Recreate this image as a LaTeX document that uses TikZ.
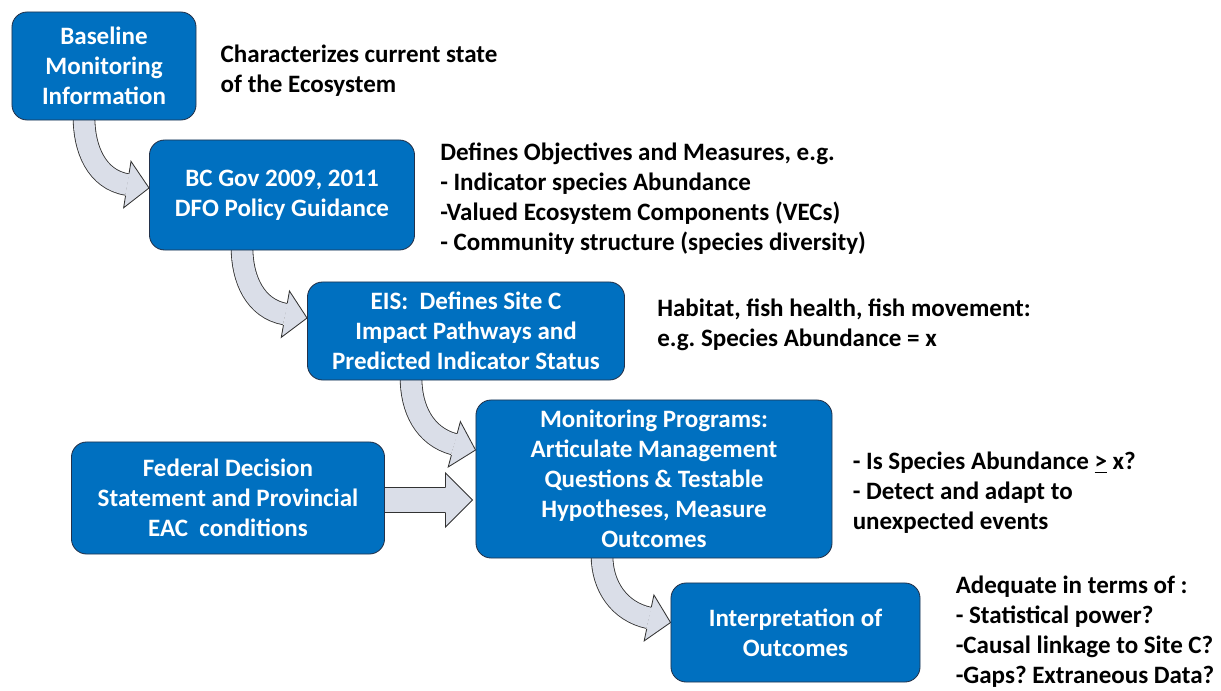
\documentclass[tikz,border=0pt]{standalone}
\usepackage{fontspec}
\setmainfont{Carlito}
\usetikzlibrary{positioning, calc, backgrounds}
\definecolor{BoxBlue}{RGB}{0,112,192}
\definecolor{BoxEdge}{RGB}{35,50,75}
\definecolor{ArrowGray}{RGB}{218,222,232}
\definecolor{ArrowEdge}{RGB}{50,50,50}
\frenchspacing

\tikzset{
  stagebox/.style={draw=BoxEdge, line width=0.6pt, fill=BoxBlue, rounded corners=0.38cm, text=white, align=center, inner sep=0pt, font=\bfseries\fontsize{17.8}{21.3}\selectfont},
  sidenote/.style={anchor=west, align=left, inner sep=0pt, font=\bfseries\fontsize{17.8}{21.3}\selectfont},
  shaft/.style={draw=ArrowEdge, line width=0.6pt, double=ArrowGray, double distance=0.52cm},
}

% curved block arrow: start, tip, tilt of the head, options of the to path
\newcommand{\bendarrow}[4]{%
  \begin{scope}[shift={#2}, rotate=#3]
    \coordinate (headbase) at (-22,0);
  \end{scope}
  \draw[shaft] #1 to[#4] (headbase);
  \begin{scope}[shift={#2}, rotate=#3]
    \fill[ArrowGray] (-22,23.5) -- (0,0) -- (-22,-23.5) -- cycle;
    \draw[ArrowEdge, line width=0.6pt] (-22,11.2) -- (-22,23.5) -- (0,0) -- (-22,-23.5) -- (-22,-11.2);
  \end{scope}}

\begin{document}
\begin{tikzpicture}[x=0.025cm, y=0.025cm]
  \useasboundingbox (0,0) rectangle (1221,-690);

  \node[stagebox, minimum width=4.6cm, minimum height=2.7cm] (base) at (104,-66) {Baseline\\Monitoring\\Information};
  \node[stagebox, minimum width=6.625cm, minimum height=2.75cm] (bcgov) at (282,-195) {BC Gov 2009, 2011\\DFO Policy Guidance};
  \node[stagebox, minimum width=7.925cm, minimum height=2.45cm] (eis) at (466,-331) {EIS:\ \ Defines Site C\\Impact Pathways and\\Predicted Indicator Status};
  \node[stagebox, minimum width=8.9cm, minimum height=3.95cm] (monit) at (654,-479) {Monitoring Programs:\\Articulate Management\\Questions \& Testable\\Hypotheses, Measure\\Outcomes};
  \node[stagebox, minimum width=7.825cm, minimum height=2.8cm] (federal) at (228,-498) {Federal Decision\\Statement and Provincial\\EAC\ \ conditions};
  \node[stagebox, minimum width=6.225cm, minimum height=2.475cm] (interp) at (795.5,-632.5) {Interpretation of\\Outcomes};

  \node[sidenote, right=0.6cm of base, yshift=-0.12cm] (chr) {Characterizes current state\\of the Ecosystem};
  \node[sidenote, right=0.625cm of bcgov, yshift=-0.1cm] (obj) {Defines Objectives and Measures, e.g.\\- Indicator species Abundance\\-Valued Ecosystem Components (VECs)\\- Community structure (species diversity)};
  \node[sidenote, right=0.8cm of eis, yshift=0.15cm] (hab) {Habitat, fish health, fish movement:\\e.g. Species Abundance = x};
  \node[sidenote, right=0.5cm of monit, yshift=-0.35cm] (qst) {- Is Species Abundance \underline{>} x?\\- Detect and adapt to\\unexpected events};
  \node[sidenote, right=0.875cm of interp, yshift=0.03cm] (adq) {Adequate in terms of :\\- Statistical power?\\-Causal linkage to Site C?\\-Gaps? Extraneous Data?};

  \begin{scope}[on background layer]
    \bendarrow{($(base.south)+(-20,3)$)}{($(bcgov.west)+(0,7)$)}{-9}{out=-90, in=171}
    \bendarrow{($(bcgov.south)+(-40,3)$)}{($(eis.west)+(0,13)$)}{-10}{out=-90, in=170}
    \bendarrow{($(eis.south)+(-55,3)$)}{($(monit.west)+(0,29)$)}{-15}{out=-90, in=165}
    \bendarrow{($(monit.south)+(-52,3)$)}{($(interp.west)+(0,10)$)}{-12}{out=-90, in=168}
    % straight arrow from the federal box
    \coordinate (fedtip) at ($(monit.west |- federal.east)+(-3,-2)$);
    \coordinate (fedhead) at ($(fedtip)+(-27,0)$);
    \draw[shaft, double distance=0.62cm] ($(federal.east)+(-3,-2)$) -- (fedhead);
    \begin{scope}[shift={(fedtip)}]
      \fill[ArrowGray] (-27,27) -- (0,0) -- (-27,-27) -- cycle;
      \draw[ArrowEdge, line width=0.6pt] (-27,13.2) -- (-27,27) -- (0,0) -- (-27,-27) -- (-27,-13.2);
    \end{scope}
  \end{scope}
\end{tikzpicture}
\end{document}
